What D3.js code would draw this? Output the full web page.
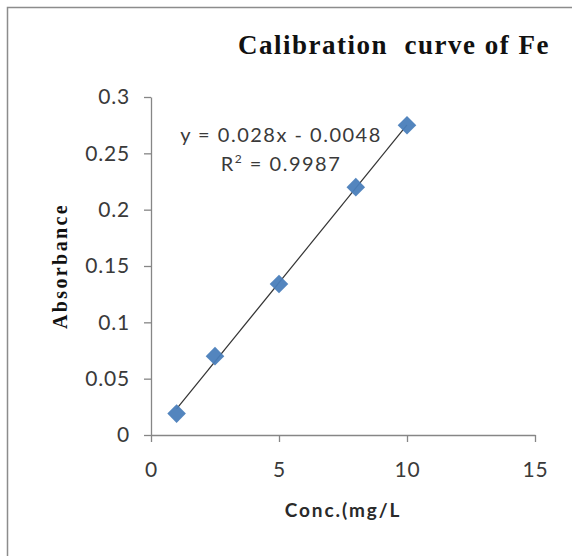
<html>
<head>
    <style>
        body {
            margin: 0;
            background: white;
        }
    </style>
    <script src="https://cdn.jsdelivr.net/npm/d3@7"></script>
</head>
<body>
<svg id="chart"></svg>
<script>
    // data
    let conc = [1, 2.5, 5, 8, 10]
    let absorbance = [0.019, 0.070, 0.134, 0.220, 0.275]
    let xTicks = [0, 5, 10, 15]
    let yTicks = [0, 0.05, 0.1, 0.15, 0.2, 0.25, 0.3]
    let slope = 0.028
    let intercept = -0.0048
    let rSquared = 0.9987

    let width = 572
    let height = 556
    let margin = {left: 151, top: 97, right: 37, bottom: 121}
    let sans = "Lato, 'Open Sans', sans-serif"
    let serif = "'Liberation Serif', 'Times New Roman', serif"

    let svg = d3.select("#chart")
        .attr("width", width)
        .attr("height", height)

    // outer chart border, runs off the page on the right and bottom
    svg.append("rect")
        .attr("x", 7.5).attr("y", 7.5)
        .attr("width", width).attr("height", height)
        .attr("fill", "white")
        .attr("stroke", "#8c8c8c")
        .attr("stroke-width", 1.5)

    let x = d3.scaleLinear().domain([0, 15]).range([margin.left, width - margin.right])
    let y = d3.scaleLinear().domain([0, 0.3]).range([height - margin.bottom, margin.top])

    let xAxis = svg.append("g")
        .attr("transform", `translate(0,${y(0)})`)
        .call(d3.axisBottom(x).tickValues(xTicks).tickSize(7).tickPadding(20).tickSizeOuter(0))
    let yAxis = svg.append("g")
        .attr("transform", `translate(${x(0)},0)`)
        .call(d3.axisLeft(y).tickValues(yTicks).tickSize(7).tickPadding(14).tickSizeOuter(0).tickFormat(d => String(+d.toFixed(2))))

    for (let ax of [xAxis, yAxis]) {
        ax.select(".domain").attr("stroke", "#868686").attr("stroke-width", 1.3)
        ax.selectAll(".tick line").attr("stroke", "#868686").attr("stroke-width", 1.3)
        ax.selectAll("text")
            .attr("fill", "#3a3a3a")
            .style("font-family", sans)
            .style("font-size", "21px")
            .style("letter-spacing", "0.8px")
    }

    // trendline from the equation
    let line = d3.line().x(d => x(d)).y(d => y(slope * d + intercept))
    svg.append("path")
        .datum([conc[0], conc[conc.length - 1]])
        .attr("d", line)
        .attr("stroke", "#333")
        .attr("stroke-width", 1.2)
        .attr("fill", "none")

    // diamond markers
    let diamond = d3.symbol().type(d3.symbolDiamond2).size(220)
    svg.selectAll(".pt").data(conc)
        .enter().append("path")
        .attr("class", "pt")
        .attr("d", diamond)
        .attr("transform", (d, i) => `translate(${x(d)},${y(absorbance[i])})`)
        .attr("fill", "#4a7ebb")
        .attr("opacity", 0.95)

    // equation labels
    let eq = svg.append("g")
        .style("font-family", sans)
        .style("font-size", "20px")
        .style("letter-spacing", "1.5px")
        .attr("fill", "#3a3a3a")
        .attr("text-anchor", "middle")
    eq.append("text").attr("x", 281).attr("y", 142)
        .text(`y = ${slope}x - ${Math.abs(intercept)}`)
    let r2 = eq.append("text").attr("x", 281).attr("y", 171)
    r2.append("tspan").text("R")
    r2.append("tspan").attr("dy", -8).style("font-size", "12px").text("2")
    r2.append("tspan").attr("dy", 8).text(` = ${rSquared}`)

    // title
    svg.append("text")
        .attr("x", 394).attr("y", 54)
        .attr("text-anchor", "middle")
        .attr("xml:space", "preserve")
        .style("white-space", "pre")
        .style("font-family", serif)
        .style("font-weight", "bold")
        .style("font-size", "27px")
        .style("letter-spacing", "1.5px")
        .attr("fill", "#111")
        .text("Calibration  curve of Fe")

    // axis titles
    svg.append("text")
        .attr("x", 343).attr("y", 517)
        .attr("text-anchor", "middle")
        .style("font-family", sans)
        .style("font-weight", "bold")
        .style("font-size", "19px")
        .style("letter-spacing", "1.9px")
        .attr("fill", "#2a2a2a")
        .text("Conc.(mg/L")

    svg.append("text")
        .attr("transform", "translate(67,266) rotate(-90)")
        .attr("text-anchor", "middle")
        .style("font-family", serif)
        .style("font-weight", "bold")
        .style("font-size", "20px")
        .style("letter-spacing", "2.4px")
        .attr("fill", "#111")
        .text("Absorbance")
</script>
</body>
</html>
